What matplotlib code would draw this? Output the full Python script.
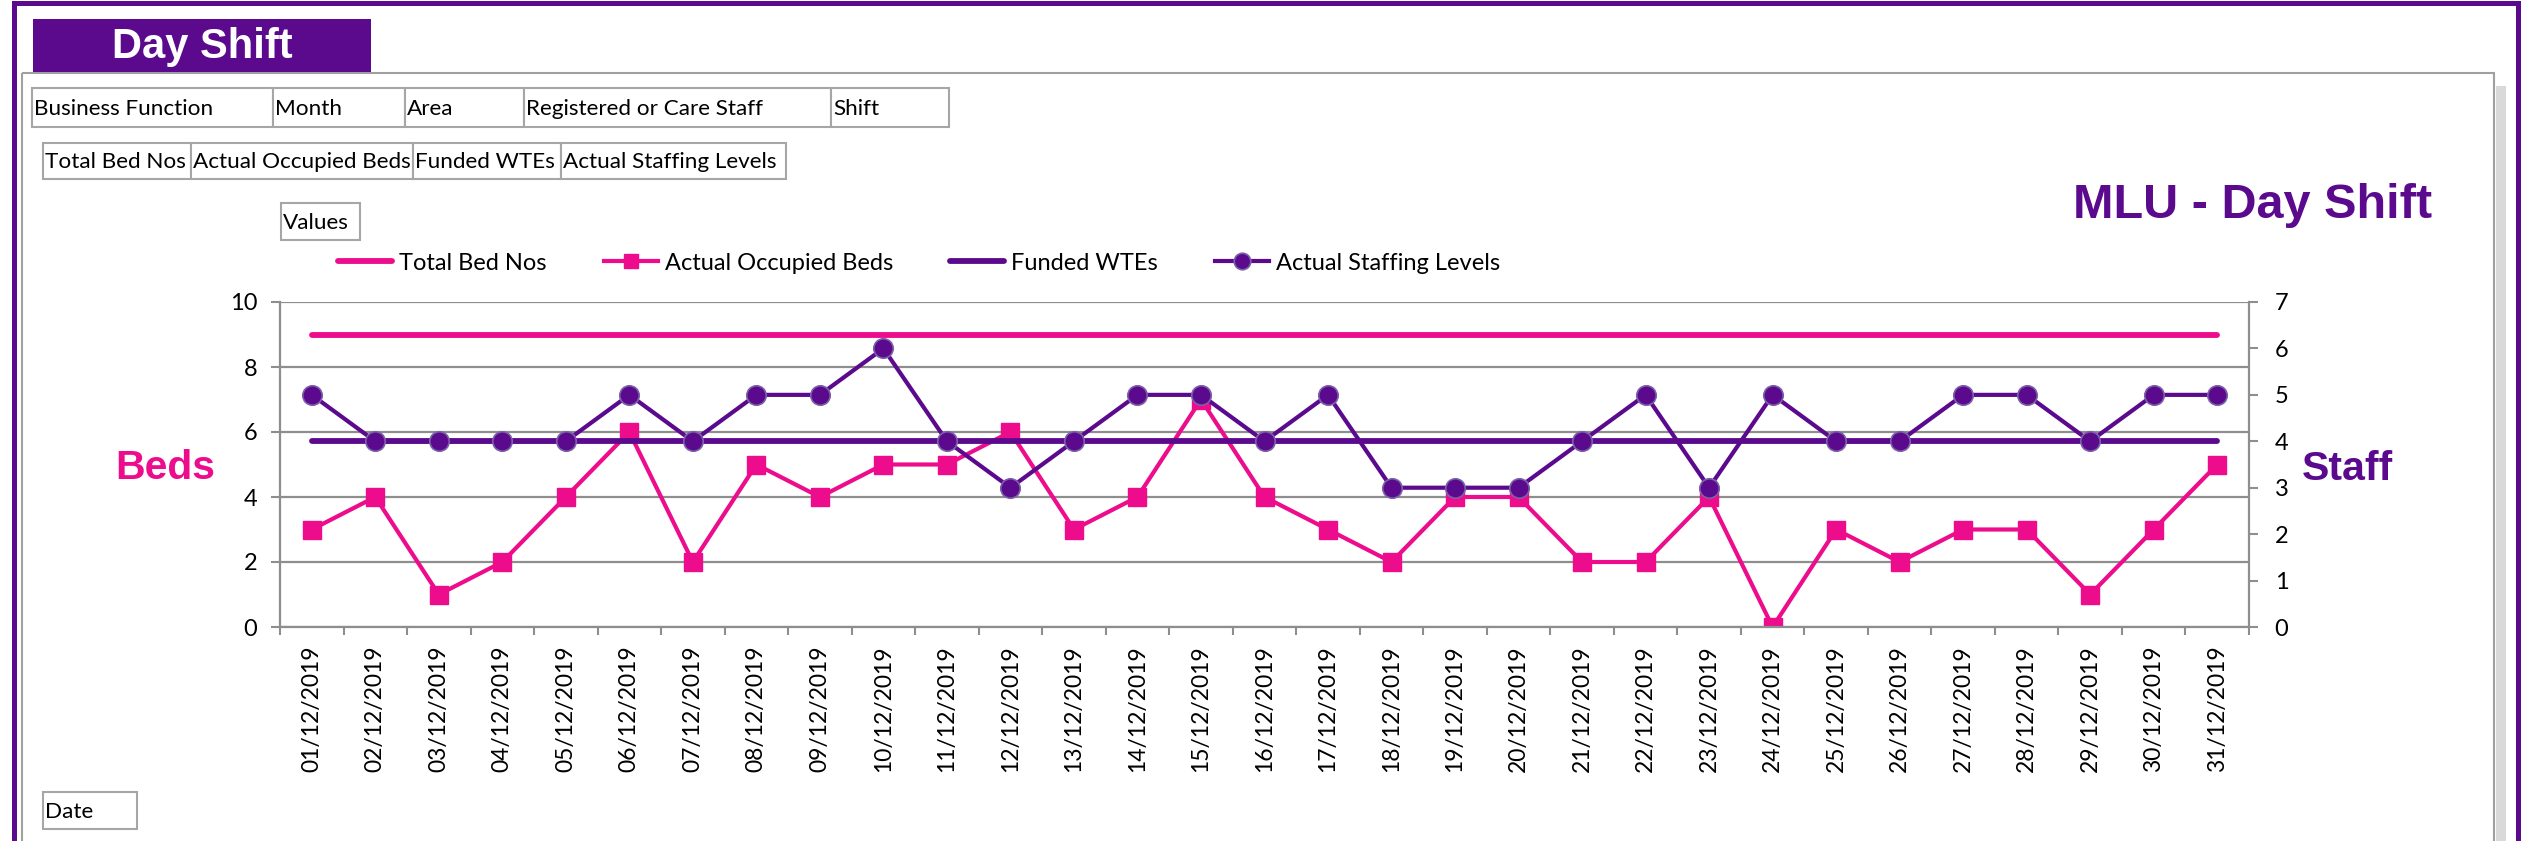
import numpy as np
import matplotlib
matplotlib.use('Agg')
import matplotlib.pyplot as plt
from matplotlib.patches import Rectangle

plt.rcParams['font.family'] = ['Lato', 'DejaVu Sans']

W, H = 2521, 841
PINK = '#EC0C8C'
PURPLE = '#5B0A8E'
GRID = '#8E8E8E'
BOX = '#A6A6A6'

# data
dates = [f"{d:02d}/12/2019" for d in range(1, 32)]
total_bed_nos = [9] * 31
occupied_beds = [3, 4, 1, 2, 4, 6, 2, 5, 4, 5, 5, 6, 3, 4, 7, 4,
                 3, 2, 4, 4, 2, 2, 4, 0, 3, 2, 3, 3, 1, 3, 5]
funded_wtes = [4] * 31
staffing_levels = [5, 4, 4, 4, 4, 5, 4, 5, 5, 6, 4, 3, 4, 5, 5, 4,
                   5, 3, 3, 3, 4, 5, 3, 5, 4, 4, 5, 5, 4, 5, 5]

filter_fields = ['Business Function', 'Month', 'Area', 'Registered or Care Staff', 'Shift']
value_fields = ['Total Bed Nos', 'Actual Occupied Beds', 'Funded WTEs', 'Actual Staffing Levels']


def fx(x):
    return x / W


def fy(y):
    return 1 - y / H


fig = plt.figure(figsize=(W / 100, H / 100), dpi=100)

# background layer in pixel coordinates
bg = fig.add_axes([0, 0, 1, 1])
bg.set_xlim(0, W)
bg.set_ylim(H, 0)
bg.axis('off')

# purple outer border
bg.add_patch(Rectangle((12, 1), W - 12, 5, color=PURPLE, lw=0))
bg.add_patch(Rectangle((12, 1), 5, H, color=PURPLE, lw=0))
bg.add_patch(Rectangle((2516, 1), 5, H, color=PURPLE, lw=0))

# grey chart frame with shadow
bg.add_patch(Rectangle((2496, 86), 10, H, color='#D9D9D9', lw=0))
bg.add_patch(Rectangle((22, 73), 2494 - 22, 900, fill=False, ec='#A0A0A0', lw=1.5))

# header box
bg.add_patch(Rectangle((33, 19), 338, 53, color=PURPLE, lw=0))
bg.text(202, 58, 'Day Shift', color='white', fontsize=30, weight='bold',
        family='Liberation Sans', ha='center', va='baseline')


def button(x0, x1, y0, y1, label):
    bg.add_patch(Rectangle((x0, y0), x1 - x0, y1 - y0, fc='white', ec=BOX, lw=1.5))
    bg.text(x0 + 2, (y0 + y1) / 2 + 1, label, fontsize=16.2, ha='left', va='center')


row1 = [32, 273, 405, 524, 831, 949]
for i, name in enumerate(filter_fields):
    button(row1[i], row1[i + 1], 88, 127, name)
row2 = [43, 191, 413, 561, 786]
for i, name in enumerate(value_fields):
    button(row2[i], row2[i + 1], 143, 179, name)
button(281, 360, 203, 240, 'Values')
button(43, 137, 792, 829, 'Date')

bg.text(2432, 218, 'MLU - Day Shift', color=PURPLE, fontsize=35, weight='bold',
        family='Liberation Sans', ha='right', va='baseline')
bg.text(165, 479, 'Beds', color=PINK, fontsize=29.5, weight='bold',
        family='Liberation Sans', ha='center', va='baseline')
bg.text(2302, 480, 'Staff', color=PURPLE, fontsize=29.5, weight='bold',
        family='Liberation Sans', ha='left', va='baseline')

# chart
ax = fig.add_axes([fx(280), fy(627), (2249 - 280) / W, (627 - 302) / H])
ax.patch.set_alpha(0)
x = np.arange(len(dates))

l1, = ax.plot(x, total_bed_nos, color=PINK, lw=4.2, solid_capstyle='round',
              label='Total Bed Nos')
l2, = ax.plot(x, occupied_beds, color=PINK, lw=3, marker='s', ms=12.5,
              mec=PINK, label='Actual Occupied Beds')
ax.set_xlim(-0.5, len(dates) - 0.5)
ax.set_ylim(0, 10)
ax.set_yticks(range(0, 11, 2))
ax.grid(axis='y', color=GRID, lw=1.6)
ax.set_axisbelow(True)

ax.set_xticks(x)
ax.set_xticklabels(dates, rotation=90)
ax.set_xticks(np.arange(-0.5, len(dates), 1), minor=True)
ax.tick_params(axis='x', which='major', length=0, pad=13, labelsize=16.5)
ax.tick_params(axis='x', which='minor', length=6, width=1.5, color=GRID)
ax.tick_params(axis='y', length=6.5, width=1.5, color=GRID, pad=10, labelsize=17)
for side in ['top', 'right']:
    ax.spines[side].set_visible(False)
for side in ['left', 'bottom']:
    ax.spines[side].set_color(GRID)
    ax.spines[side].set_linewidth(1.6)

ax2 = ax.twinx()
l3, = ax2.plot(x, funded_wtes, color=PURPLE, lw=4.2, solid_capstyle='round',
               label='Funded WTEs')
l4, = ax2.plot(x, staffing_levels, color=PURPLE, lw=3, marker='o', ms=14,
               mec='#7B62A8', mew=1.2, label='Actual Staffing Levels')
ax2.set_ylim(0, 7)
ax2.set_yticks(range(0, 8))
ax2.tick_params(axis='y', length=6.5, width=1.5, color=GRID, pad=12, labelsize=17)
for side in ['top', 'left', 'bottom']:
    ax2.spines[side].set_visible(False)
ax2.spines['right'].set_color(GRID)
ax2.spines['right'].set_linewidth(1.6)

fig.legend([l1, l2, l3, l4], [h.get_label() for h in [l1, l2, l3, l4]],
           loc='center left', bbox_to_anchor=(fx(338), fy(263)), ncol=4,
           frameon=False, fontsize=17, handlelength=2.3, handletextpad=0.3,
           columnspacing=2.4, markerscale=0.85, borderaxespad=0, borderpad=0)

fig.savefig('out.png', dpi=100)
